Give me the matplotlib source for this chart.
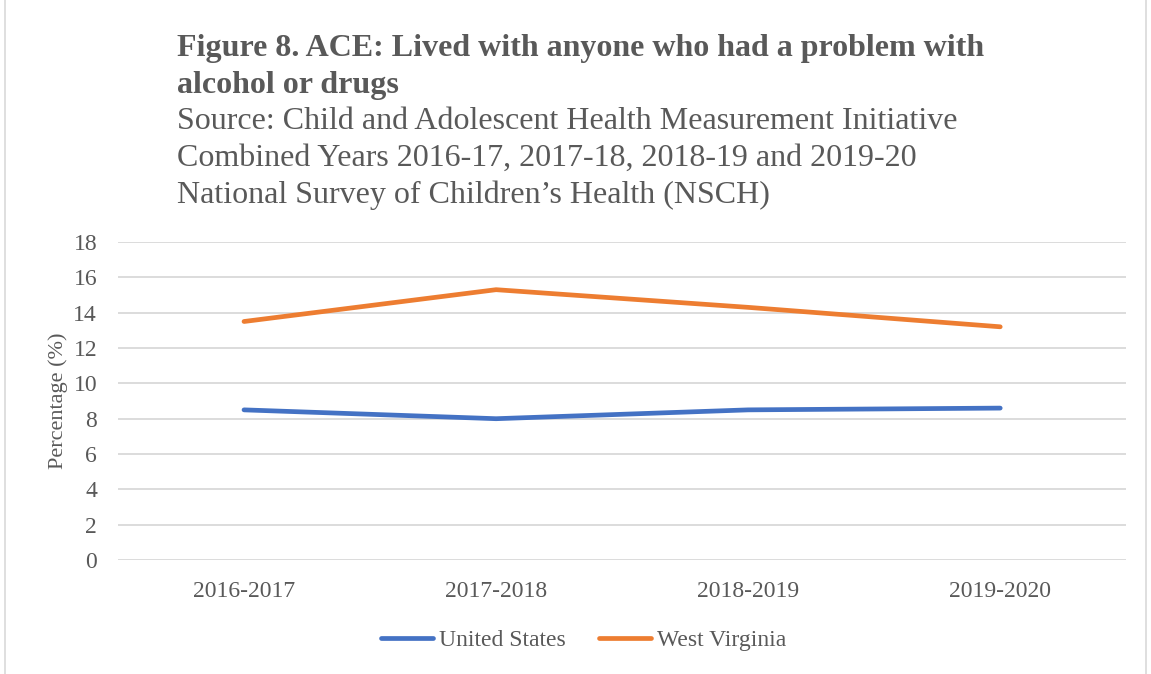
import matplotlib
matplotlib.use("Agg")
import matplotlib.pyplot as plt
from matplotlib.patches import Rectangle

years = ["2016-2017", "2017-2018", "2018-2019", "2019-2020"]
us = [8.5, 8.0, 8.5, 8.6]
wv = [13.5, 15.3, 14.3, 13.2]

title_lines = ["Figure 8. ACE: Lived with anyone who had a problem with",
               "alcohol or drugs"]
source_lines = ["Source: Child and Adolescent Health Measurement Initiative",
                "Combined Years 2016-17, 2017-18, 2018-19 and 2019-20",
                "National Survey of Children\u2019s Health (NSCH)"]

plt.rcParams["font.family"] = ["Liberation Serif", "DejaVu Serif"]
grey = "#595959"
H = 674.0

fig = plt.figure(figsize=(11.51, 6.74), dpi=100)
ax = fig.add_axes([0.1025, 0.169, 0.876, 0.472])

x = range(len(years))
ax.plot(x, us, color="#4472c4", lw=3.4, solid_capstyle="round", label="United States")
ax.plot(x, wv, color="#ed7d31", lw=3.4, solid_capstyle="round", label="West Virginia")

ax.set_xlim(-0.5, len(years) - 0.5)
ax.set_ylim(0, 18)
ax.set_yticks(range(0, 19, 2))
ax.set_xticks(list(x))
ax.set_xticklabels(years)
ax.grid(axis="y", color="#d9d9d9", lw=1.3)
ax.set_axisbelow(True)
for s in ax.spines.values():
    s.set_visible(False)
ax.tick_params(length=0, labelsize=17, colors=grey)
ax.tick_params(axis="x", pad=15)
ax.tick_params(axis="y", pad=15)
ax.set_ylabel("Percentage (%)", fontsize=16, color=grey, labelpad=4)

# title and source, one line at a time (baselines in px from top)
for txt, yb in zip(title_lines, [56, 93]):
    fig.text(177 / 1151, 1 - yb / H, txt, fontsize=23, fontweight="bold",
             color=grey, va="baseline", ha="left")
for txt, yb in zip(source_lines, [129, 166, 203]):
    fig.text(177 / 1151, 1 - yb / H, txt, fontsize=23, color=grey,
             va="baseline", ha="left")

fig.legend(loc="center", bbox_to_anchor=(0.507, 1 - 640 / H), ncol=2, frameon=False,
           fontsize=17, labelcolor=grey, handlelength=2.2, handletextpad=0.25,
           columnspacing=1.4)

fig.patches.append(Rectangle((0.004, -0.01), 0.992, 1.02, transform=fig.transFigure,
                             fill=False, edgecolor="#d9d9d9", lw=1.2))

fig.savefig("out.png", dpi=100)
